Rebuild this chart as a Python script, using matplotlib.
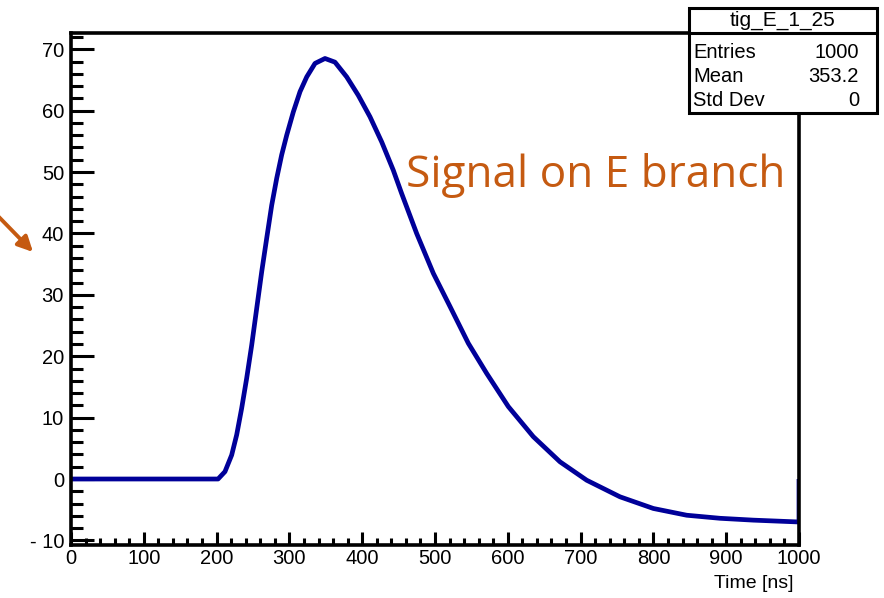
import numpy as np
import matplotlib
matplotlib.use('Agg')
import matplotlib.pyplot as plt
from matplotlib.patches import Rectangle
from matplotlib.ticker import MultipleLocator, FuncFormatter

# Waveform (time in ns, amplitude)
time_ns = [0, 202, 211.5, 220.7, 227.6, 234.4, 241.3, 248.2, 255.1, 262,
           268.8, 275.7, 282.6, 289.4, 296.3, 305.4, 314.6, 323.8, 335.2,
           348.9, 362.6, 378.7, 394.6, 410.7, 426.8, 442.7, 454.2, 474.8,
           497.7, 520.6, 545.8, 571, 600.7, 635, 671.7, 708.4, 754.1, 799.9,
           845.7, 891.5, 937.2, 1000, 1000]
amplitude = [0, 0, 1.2, 3.9, 7.2, 11.5, 16.4, 21.8, 27.8, 33.8,
             39.2, 44.6, 49.0, 52.8, 56.0, 59.8, 63.1, 65.5, 67.7,
             68.5, 67.9, 65.5, 62.5, 59.0, 54.9, 50.3, 46.5, 40.0,
             33.5, 28.1, 22.1, 17.2, 11.8, 6.9, 2.8, -0.2, -2.9, -4.8,
             -5.9, -6.4, -6.7, -7.0, 0]

hist_name = 'tig_E_1_25'
stat_names = ['Entries', 'Mean', 'Std Dev']
stat_values = ['1000', '353.2', '0']

W, H = 884, 598
ROOT_FONT = 'Liberation Sans'
ACCENT = '#C55A11'


def px(x, y):
    """pixel position (from top-left) -> figure fraction"""
    return x / W, 1 - y / H


fig = plt.figure(figsize=(W / 100, H / 100), dpi=100)
ax = fig.add_axes([71 / W, (H - 545) / H, (799 - 71) / W, (545 - 33) / H])

ax.plot(time_ns, amplitude, color='#000099', linewidth=3.4,
        solid_joinstyle='round', solid_capstyle='butt', zorder=2)

ax.set_xlim(0, 1000)
ax.set_ylim(-10.75, 72.65)

ax.xaxis.set_major_locator(MultipleLocator(100))
ax.xaxis.set_minor_locator(MultipleLocator(20))
ax.yaxis.set_major_locator(MultipleLocator(10))
ax.yaxis.set_minor_locator(MultipleLocator(2))
ax.yaxis.set_major_formatter(FuncFormatter(
    lambda v, p: f'- {abs(int(v))}' if v < 0 else f'{int(v)}'))

ax.tick_params(axis='both', which='both', direction='in', width=2.2,
               color='black', top=False, right=False)
ax.tick_params(axis='y', which='major', length=16.5, pad=5, labelsize=14.5)
ax.tick_params(axis='y', which='minor', length=8.5)
ax.tick_params(axis='x', which='major', length=9.5, pad=3, labelsize=14.5)
ax.tick_params(axis='x', which='minor', length=5)
for lab in ax.get_xticklabels() + ax.get_yticklabels():
    lab.set_fontfamily(ROOT_FONT)

for side in ['left', 'bottom', 'top', 'right']:
    ax.spines[side].set_linewidth(2.6)
    ax.spines[side].set_zorder(3)

fig.text(*px(793, 583), 'Time [ns]', ha='right', va='center',
         fontsize=14, family=ROOT_FONT)

# stats box
x0, y0 = px(689, 113)
x1, y1 = px(877, 8)
fig.add_artist(Rectangle((x0, y0), x1 - x0, y1 - y0, transform=fig.transFigure,
                         facecolor='white', edgecolor='black', linewidth=2.2,
                         zorder=5))
fig.add_artist(plt.Line2D([x0, x1], [px(0, 33)[1]] * 2, transform=fig.transFigure,
                          color='black', linewidth=2.2, zorder=6))
fig.text(*px(783, 20), hist_name, ha='center', va='center', fontsize=15,
         family=ROOT_FONT, zorder=7)
for i, (name, val) in enumerate(zip(stat_names, stat_values)):
    yy = 52 + i * 24
    fig.text(*px(693, yy), name, ha='left', va='center', fontsize=14.5,
             family=ROOT_FONT, zorder=7)
    fig.text(*px(859, yy), val, ha='right', va='center', fontsize=14.5,
             family=ROOT_FONT, zorder=7)

# annotation
fig.text(*px(406, 187), 'Signal on E branch', ha='left', va='baseline',
         fontsize=31.8, family='Open Sans', color=ACCENT)
ax.annotate('', xy=(33, H - 252), xycoords='figure pixels',
            xytext=(-4, H - 214), textcoords='figure pixels',
            arrowprops=dict(arrowstyle='-|>,head_length=0.9,head_width=0.45',
                            color=ACCENT, lw=2.8, shrinkA=0, shrinkB=0),
            annotation_clip=False)

fig.savefig('out.png', dpi=100)
